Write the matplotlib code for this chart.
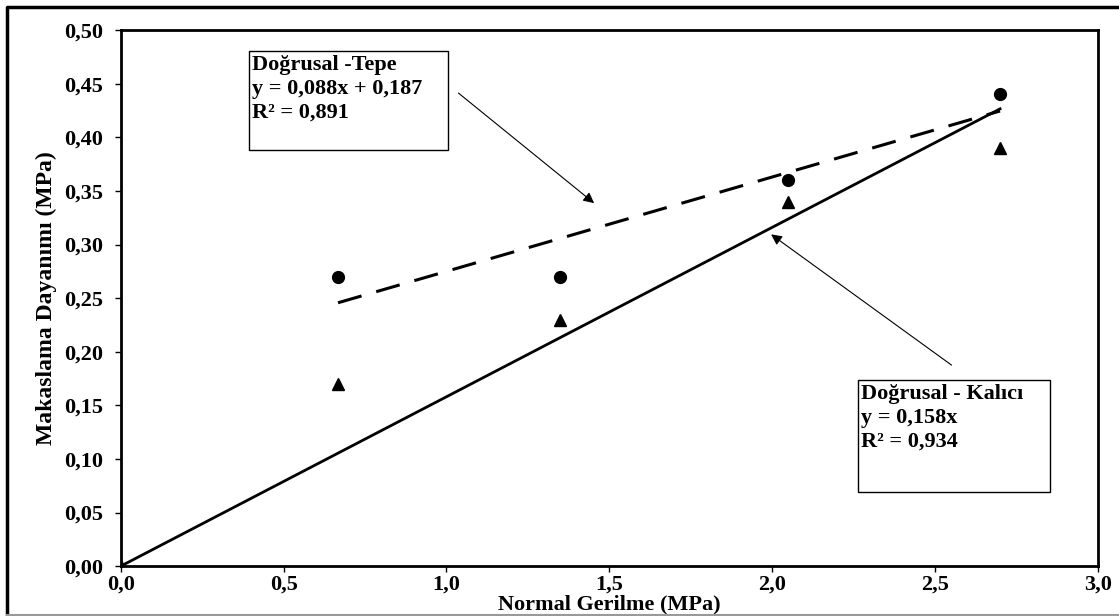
import matplotlib.pyplot as plt
from matplotlib.patches import Rectangle
from matplotlib.lines import Line2D

# data
normal = [0.667, 1.35, 2.05, 2.7]
tepe = [0.27, 0.27, 0.36, 0.44]
kalici_x = [0.0, 0.667, 1.35, 2.05, 2.7]
kalici = [0.0, 0.17, 0.23, 0.34, 0.39]

tepe_slope, tepe_icpt = 0.088, 0.187
kalici_slope = 0.158

plt.rcParams['font.family'] = ['Liberation Serif', 'DejaVu Serif']
plt.rcParams['font.weight'] = 'bold'


def main():
    fig = plt.figure(figsize=(11.19, 6.16), dpi=100)
    ax = fig.add_axes([0.108, 0.081, 0.873, 0.870])

    # outer frame of the figure (left/top dark, bottom grey)
    fig.lines.append(Line2D([0.006, 0.006, 1.0], [0.0, 0.989, 0.989], transform=fig.transFigure,
                            color='black', lw=2.5))
    fig.lines.append(Line2D([0.006, 1.0], [0.002, 0.002], transform=fig.transFigure,
                            color='#999999', lw=1.5))

    # trend lines
    tx = [normal[0], normal[-1]]
    ax.plot(tx, [tepe_slope * v + tepe_icpt for v in tx], color='black', lw=2.2,
            dashes=(8, 5), zorder=2)
    kx = [kalici_x[0], kalici_x[-1]]
    ax.plot(kx, [kalici_slope * v for v in kx], color='black', lw=2.0, zorder=2)

    ax.plot(normal, tepe, 'o', color='black', markersize=8.5, zorder=3)
    ax.plot(kalici_x, kalici, '^', color='black', markersize=8.5, zorder=3)

    ax.set_xlim(0, 3.0)
    ax.set_ylim(0, 0.5)
    ax.set_xticks([0, 0.5, 1.0, 1.5, 2.0, 2.5, 3.0])
    ax.set_xticklabels(['0,0', '0,5', '1,0', '1,5', '2,0', '2,5', '3,0'])
    yt = [i * 0.05 for i in range(11)]
    ax.set_yticks(yt)
    ax.set_yticklabels([f'{v:.2f}'.replace('.', ',') for v in yt])
    ax.tick_params(axis='y', direction='out', length=4, width=1, labelsize=16, pad=9)
    ax.tick_params(axis='x', direction='out', length=4, width=1, labelsize=16, pad=2)
    for s in ax.spines.values():
        s.set_linewidth(2)

    ax.set_xlabel('Normal Gerilme (MPa)', fontsize=16, fontweight='bold', labelpad=0)
    ax.set_ylabel('Makaslama Dayanımı (MPa)', fontsize=17, fontweight='bold', labelpad=5)

    # label boxes
    ax.add_patch(Rectangle((0.393, 0.388), 0.612, 0.093, fill=False, edgecolor='black',
                           lw=1, zorder=4))
    ax.text(0.402, 0.477, 'Doğrusal -Tepe\ny = 0,088x + 0,187\nR² = 0,891', fontsize=16,
            fontweight='bold', va='top', ha='left', linespacing=1.25, zorder=5)
    ax.add_patch(Rectangle((2.265, 0.069), 0.588, 0.105, fill=False, edgecolor='black',
                           lw=1, zorder=4))
    ax.text(2.274, 0.170, 'Doğrusal - Kalıcı\ny = 0,158x\nR² = 0,934', fontsize=16,
            fontweight='bold', va='top', ha='left', linespacing=1.25, zorder=5)

    ax.annotate('', xy=(1.46, 0.337), xytext=(1.03, 0.443),
                arrowprops=dict(arrowstyle='-|>', color='black', lw=0.8, mutation_scale=16))
    ax.annotate('', xy=(1.99, 0.311), xytext=(2.558, 0.186),
                arrowprops=dict(arrowstyle='-|>', color='black', lw=0.8, mutation_scale=16))

    fig.savefig('out.png', dpi=100)


if __name__ == "__main__":
    main()
